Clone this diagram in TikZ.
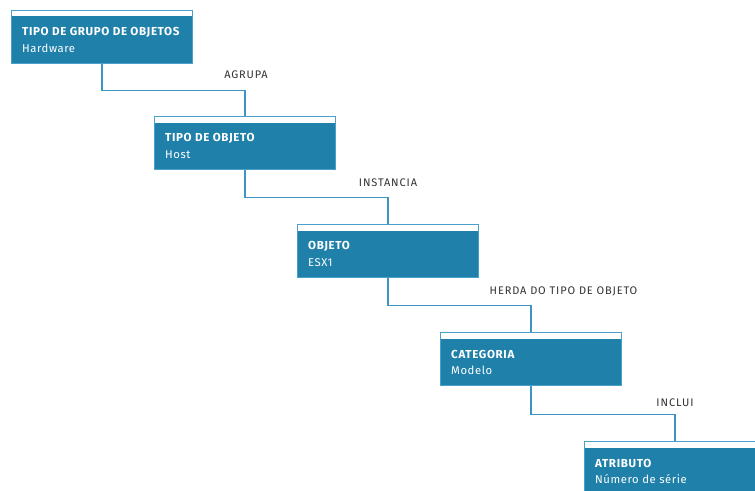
\documentclass[tikz,border=0pt]{standalone}
\usepackage{fontspec}
\setmainfont{Fira Sans}
\newfontfamily\titlefont[LetterSpace=5.5]{Fira Sans Bold}
\newfontfamily\subfont[LetterSpace=5]{Fira Sans}
\newfontfamily\relfont[LetterSpace=8]{Fira Sans}
\usetikzlibrary{calc}
\definecolor{boxfill}{HTML}{1F80AA}
\definecolor{boxedge}{HTML}{4A9FCB}
\definecolor{linkblue}{HTML}{3E95C3}
\definecolor{labelgray}{HTML}{333333}
\tikzset{
  entity/.style={rectangle, minimum width=181pt, minimum height=53pt, inner sep=0pt,
    fill=boxfill, draw=boxedge, line width=1.2pt,
    path picture={\fill[white] (path picture bounding box.north west) rectangle ($(path picture bounding box.north east)+(0,6)$);}},
  etitle/.style={anchor=west, inner sep=0pt, text=white, font=\titlefont\fontsize{11.6}{13}\selectfont},
  esub/.style={anchor=west, inner sep=0pt, text=white, font=\subfont\fontsize{11.3}{13}\selectfont},
  link/.style={draw=linkblue, line width=1.4pt},
  rel/.style={anchor=center, inner sep=0pt, text=labelgray, font=\relfont\fontsize{11}{13}\selectfont}
}
\begin{document}
\begin{tikzpicture}[x=1pt, y=-1pt]
\useasboundingbox (0,0) rectangle (755,490);
\clip (0,0) rectangle (755,490);
% entity boxes (north west corners step down diagonally)
\node[entity, anchor=north west] (b1) at (11,9.5) {};
\node[entity, anchor=north west] (b2) at (154,116) {};
\node[entity, anchor=north west] (b3) at (297,224) {};
\node[entity, anchor=north west] (b4) at (440,332) {};
\node[entity, anchor=north west] (b5) at (584,441) {};
% box texts
\node[etitle] (t1) at ($(b1.north west)+(11,22.5)$) {TIPO DE GRUPO DE OBJETOS};
\node[esub]   (s1) at ($(b1.north west)+(11,38.5)$) {Hardware};
\node[etitle] (t2) at ($(b2.north west)+(11,22.5)$) {TIPO DE OBJETO};
\node[esub]   (s2) at ($(b2.north west)+(11,38.5)$) {Host};
\node[etitle] (t3) at ($(b3.north west)+(11,22.5)$) {OBJETO};
\node[esub]   (s3) at ($(b3.north west)+(11,38.5)$) {ESX1};
\node[etitle] (t4) at ($(b4.north west)+(11,22.5)$) {CATEGORIA};
\node[esub]   (s4) at ($(b4.north west)+(11,38.5)$) {Modelo};
\node[etitle] (t5) at ($(b5.north west)+(11,22.5)$) {ATRIBUTO};
\node[esub]   (s5) at ($(b5.north west)+(11,38.5)$) {Número de série};
% connectors
\draw[link] (b1.south) -- ++(0,27) -| (b2.north);
\draw[link] (b2.south) -- ++(0,27.5) -| (b3.north);
\draw[link] (b3.south) -- ++(0,27.5) -| (b4.north);
\draw[link] (b4.south) -- ++(0,28) -| (b5.north);
% relation labels
\node[rel] (r1) at (246,75) {AGRUPA};
\node[rel] (r2) at (388,182.5) {INSTANCIA};
\node[rel] (r3) at (563.5,291.5) {HERDA DO TIPO DE OBJETO};
\node[rel] (r4) at (675,402.5) {INCLUI};
\end{tikzpicture}
\end{document}
